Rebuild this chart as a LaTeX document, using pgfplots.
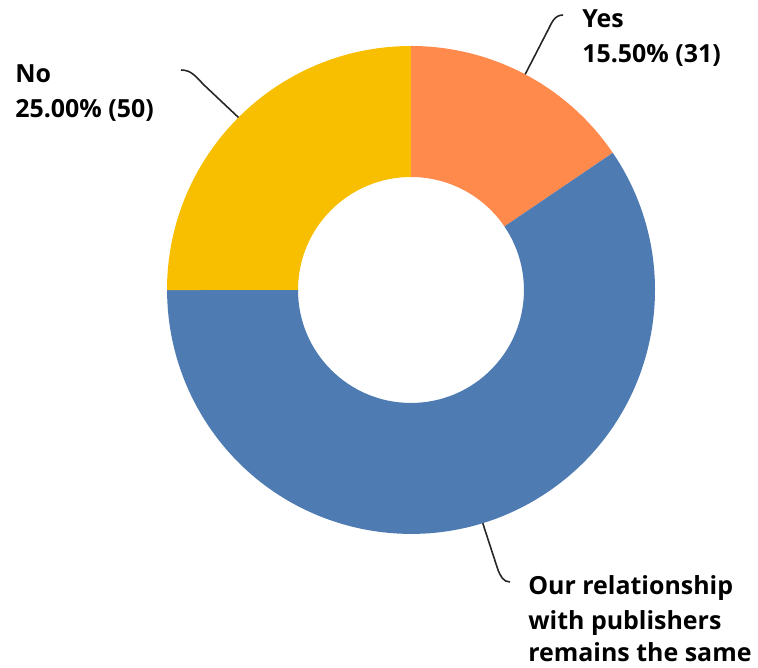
\documentclass[border=0pt]{standalone}
\usepackage{pgfplots}
\pgfplotsset{compat=1.18}
\usepackage{pgfplotstable}
\usepackage{fontspec}
\setmainfont{Open Sans}

\definecolor{cYes}{RGB}{255,138,76}
\definecolor{cSame}{RGB}{79,123,179}
\definecolor{cNo}{RGB}{248,190,0}

\pgfplotstableread{
name value
Yes 31
Same 119
No 50
}\piedata

\begin{document}
\begin{tikzpicture}
% values and angles (clockwise from the top)
\pgfplotstablegetelem{0}{value}\of\piedata \let\vA\pgfplotsretval
\pgfplotstablegetelem{1}{value}\of\piedata \let\vB\pgfplotsretval
\pgfplotstablegetelem{2}{value}\of\piedata \let\vC\pgfplotsretval
\pgfmathsetmacro{\tot}{\vA+\vB+\vC}
\pgfmathsetmacro{\aO}{90}
\pgfmathsetmacro{\aA}{\aO-360*(\vA/\tot)}
\pgfmathsetmacro{\aB}{\aA-360*(\vB/\tot)}
\pgfmathsetmacro{\aC}{\aB-360*(\vC/\tot)}
\pgfmathsetmacro{\mA}{(\aO+\aA)/2}
\pgfmathsetmacro{\mB}{(\aA+\aB)/2}
\pgfmathsetmacro{\mC}{(\aB+\aC)/2}
\def\Ro{244}\def\Ri{113}
\def\lbl#1{\fontsize{14.2pt}{19pt}\selectfont\bfseries #1}

\begin{axis}[
    hide axis, clip=false,
    x=0.02cm, y=0.02cm,
    xmin=-411, xmax=347, ymin=-378, ymax=290,
  ]
  % slices
  \fill[cYes] (axis cs:{\Ro*cos(\aO)},{\Ro*sin(\aO)}) arc[start angle=\aO, end angle=\aA, radius=4.88cm]
     -- (axis cs:{\Ri*cos(\aA)},{\Ri*sin(\aA)}) arc[start angle=\aA, end angle=\aO, radius=2.26cm] -- cycle;
  \fill[cSame] (axis cs:{\Ro*cos(\aA)},{\Ro*sin(\aA)}) arc[start angle=\aA, end angle=\aB, radius=4.88cm]
     -- (axis cs:{\Ri*cos(\aB)},{\Ri*sin(\aB)}) arc[start angle=\aB, end angle=\aA, radius=2.26cm] -- cycle;
  \fill[cNo] (axis cs:{\Ro*cos(\aB)},{\Ro*sin(\aB)}) arc[start angle=\aB, end angle=\aC, radius=4.88cm]
     -- (axis cs:{\Ri*cos(\aC)},{\Ri*sin(\aC)}) arc[start angle=\aC, end angle=\aB, radius=2.26cm] -- cycle;

  % leader lines
  \draw[black!85, line width=0.9pt] (axis cs:{\Ro*cos(\mA)},{\Ro*sin(\mA)})
     -- (axis cs:136,258) to[out=62,in=180] (axis cs:152,275);
  \draw[black!85, line width=0.9pt] (axis cs:{\Ro*cos(\mC)},{\Ro*sin(\mC)})
     -- (axis cs:-207,205) to[out=135,in=0] (axis cs:-230,220);
  \draw[black!85, line width=0.9pt] (axis cs:{\Ro*cos(\mB)},{\Ro*sin(\mB)})
     -- (axis cs:87,-280) to[out=-68,in=180] (axis cs:99,-292);

  % labels
  \node[anchor=base west, inner sep=0] at (axis cs:171,262) {\lbl{Yes}};
  \node[anchor=base west, inner sep=0] at (axis cs:171,227) {\lbl{15.50\% (31)}};
  \node[anchor=base west, inner sep=0] at (axis cs:-396,207) {\lbl{No}};
  \node[anchor=base west, inner sep=0] at (axis cs:-396,172) {\lbl{25.00\% (50)}};
  \node[anchor=base west, inner sep=0] at (axis cs:117,-305) {\lbl{Our relationship}};
  \node[anchor=base west, inner sep=0] at (axis cs:117,-340) {\lbl{with publishers}};
  \node[anchor=base west, inner sep=0] at (axis cs:117,-372) {\lbl{remains the same}};

  \coordinate (bl) at (axis cs:-411,-378);
  \coordinate (tr) at (axis cs:347,290);
\end{axis}
\pgfresetboundingbox
\useasboundingbox (bl) rectangle (tr);
\end{tikzpicture}
\end{document}
